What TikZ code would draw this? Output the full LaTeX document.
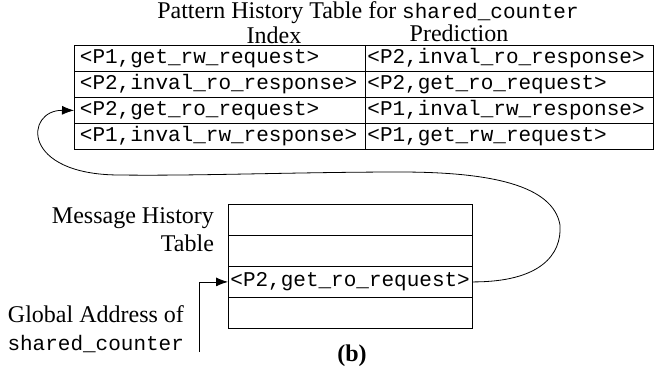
\documentclass[tikz,border=0pt]{standalone}
\usepackage{fontspec}
\setmainfont{Liberation Serif}
\setmonofont{Liberation Mono}
\usetikzlibrary{arrows.meta}
\newcommand{\codefont}{\fontsize{10.5}{12}\selectfont\ttfamily}
\begin{document}
\begin{tikzpicture}[x=0.5pt, y=-0.5pt,
  every node/.style={font=\fontsize{12}{14}\selectfont},
  cell/.style={draw, anchor=north west, font=\codefont, minimum height=13pt, inner ysep=0pt, align=left},
  ptr/.style={-{Latex[length=6pt,width=4.5pt]}}]

\useasboundingbox (0,0) rectangle (658,371);

% Pattern history table
\node (title) at (368,13) {Pattern History Table for {\codefont shared\_counter}};
\node (idxhead) at (274,35) {Index};
\node (predhead) at (459,33) {Prediction};

\foreach \i/\idxtxt/\predtxt in {
  1/{<P1,get\_rw\_request>}/{<P2,inval\_ro\_response>},
  2/{<P2,inval\_ro\_response>}/{<P2,get\_ro\_request>},
  3/{<P2,get\_ro\_request>}/{<P1,inval\_rw\_response>},
  4/{<P1,inval\_rw\_response>}/{<P1,get\_rw\_request>}} {
  \node[cell, text width=140pt, inner xsep=2.75pt] (idx\i) at (74,{45+26*(\i-1)}) {\idxtxt};
  \node[cell, text width=142pt, inner xsep=1pt] (pred\i) at (365,{45+26*(\i-1)}) {\predtxt};
}

% Message history table
\node[align=right, anchor=east] (mhtlabel) at (221,230) {Message History\\Table};
\foreach \i/\txt in {1/{}, 2/{}, 3/{<P2,get\_ro\_request>}, 4/{}} {
  \node[cell, text width=120pt, inner xsep=1pt, minimum height=15.5pt] (mht\i) at (228,{204+31*(\i-1)}) {\txt};
}

% Global address pointer
\node[align=right, anchor=east] (gaddrlabel) at (191,329) {Global Address of\\{\codefont shared\_counter}};
\coordinate (gaddr) at (199,352);
\draw[ptr] (gaddr) |- (mht3.west);

% Lookup into the pattern history table
\draw[ptr] (mht3.east) .. controls (540,282) and (562,255) .. (560,225)
  .. controls (553,185) and (490,172) .. (400,172)
  .. controls (300,172) and (200,176) .. (120,175)
  .. controls (20,175) and (25,110) .. (idx3.west);

\node[font=\fontsize{12}{14}\selectfont\bfseries] (caption) at (352,356) {(b)};

\end{tikzpicture}
\end{document}
